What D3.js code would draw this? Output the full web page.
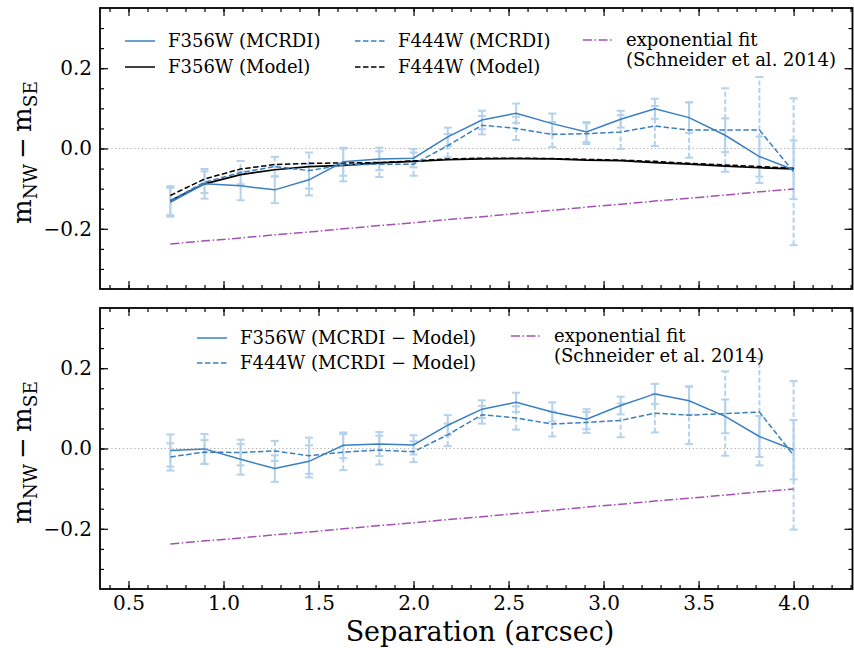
<!DOCTYPE html>
<html><head><meta charset="utf-8">
<script src="https://cdn.jsdelivr.net/npm/d3@7"></script>
<style>body{margin:0;background:#fff}svg{display:block}text{font-family:"DejaVu Serif",serif;fill:#000}</style>
</head><body>
<script>
const sep = [0.72,0.90,1.09,1.27,1.45,1.63,1.82,2.00,2.18,2.36,2.54,2.73,2.91,3.09,3.27,3.45,3.64,3.82,4.00];
const f356Mcrdi = [-0.134,-0.088,-0.093,-0.103,-0.078,-0.033,-0.026,-0.024,0.029,0.071,0.088,0.062,0.041,0.073,0.099,0.077,0.033,-0.020,-0.053];
const f444Mcrdi = [-0.130,-0.084,-0.060,-0.045,-0.055,-0.041,-0.039,-0.039,0.007,0.058,0.050,0.035,0.037,0.041,0.056,0.046,0.046,0.046,-0.058];
const f356Err = [0.036,0.037,0.036,0.033,0.039,0.035,0.028,0.023,0.023,0.023,0.024,0.025,0.025,0.021,0.025,0.038,0.042,0.050,0.073];
const f444Err = [0.036,0.027,0.029,0.024,0.045,0.041,0.032,0.029,0.029,0.023,0.029,0.031,0.026,0.042,0.050,0.069,0.104,0.132,0.183];
const f356Model = [-0.130,-0.088,-0.065,-0.053,-0.045,-0.042,-0.036,-0.032,-0.028,-0.026,-0.025,-0.026,-0.029,-0.030,-0.035,-0.039,-0.044,-0.048,-0.051];
const f444Model = [-0.117,-0.076,-0.051,-0.040,-0.037,-0.036,-0.035,-0.031,-0.026,-0.024,-0.024,-0.025,-0.027,-0.029,-0.032,-0.037,-0.041,-0.045,-0.049];
const f356Diff = [-0.005,-0.001,-0.027,-0.050,-0.032,0.008,0.011,0.009,0.058,0.098,0.115,0.091,0.073,0.107,0.136,0.119,0.080,0.030,-0.003];
const f444Diff = [-0.021,-0.009,-0.010,-0.006,-0.018,-0.009,-0.004,-0.008,0.034,0.084,0.076,0.061,0.065,0.070,0.088,0.083,0.087,0.091,-0.017];
const f356DiffErr = [0.040,0.037,0.038,0.033,0.040,0.032,0.030,0.024,0.025,0.022,0.024,0.024,0.025,0.022,0.025,0.035,0.042,0.051,0.074];
const f444DiffErr = [0.034,0.030,0.032,0.025,0.045,0.045,0.036,0.026,0.028,0.022,0.029,0.031,0.026,0.042,0.048,0.072,0.105,0.133,0.185];
const expFit = [-0.238,-0.230,-0.223,-0.215,-0.208,-0.200,-0.192,-0.185,-0.177,-0.170,-0.162,-0.154,-0.146,-0.139,-0.131,-0.124,-0.116,-0.108,-0.101];
const xTicks = [0.5,1.0,1.5,2.0,2.5,3.0,3.5,4.0];
const yTicks = [-0.2,0.0,0.2];

const W = 854, H = 648;
const BLUE = "#3b7fc0", ERR = "#b4d2ec", PURPLE = "#a451b4";
const svg = d3.select("body").append("svg").attr("width", W).attr("height", H);
const x = d3.scaleLinear().domain([0.35, 4.31]).range([100, 852.5]);
const panels = [{top: 8, bottom: 289}, {top: 308, bottom: 589}];

function lineOf(ys, y) {
  return d3.line().x((d, i) => x(sep[i])).y(d => y(d))(ys);
}

function drawPanel(p, idx) {
  const y = d3.scaleLinear().domain([-0.35, 0.35]).range([p.bottom, p.top]);
  const g = svg.append("g");
  g.append("line").attr("x1", x.range()[0]).attr("x2", x.range()[1])
    .attr("y1", y(0)).attr("y2", y(0)).attr("stroke", "#aaa").attr("stroke-width", 1.2).attr("stroke-dasharray", "1.2,2.6");

  const errSets = idx === 0
    ? [[f356Mcrdi, f356Err, null], [f444Mcrdi, f444Err, "5,2.5"]]
    : [[f356Diff, f356DiffErr, null], [f444Diff, f444DiffErr, "5,2.5"]];
  errSets.forEach(([vals, errs, dash]) => {
    const eg = g.append("g");
    vals.forEach((v, i) => {
      const cx = x(sep[i]);
      eg.append("line").attr("x1", cx).attr("x2", cx).attr("y1", y(v - errs[i])).attr("y2", y(v + errs[i]))
        .attr("stroke", ERR).attr("stroke-width", 2).attr("stroke-dasharray", dash);
      [v - errs[i], v + errs[i]].forEach(e => {
        eg.append("line").attr("x1", cx - 4).attr("x2", cx + 4).attr("y1", y(e)).attr("y2", y(e))
          .attr("stroke", ERR).attr("stroke-width", 2);
      });
    });
  });

  g.append("path").attr("d", lineOf(expFit, y)).attr("fill", "none").attr("stroke", PURPLE)
    .attr("stroke-width", 1.5).attr("stroke-dasharray", "9,2.5,1.5,2.5");
  if (idx === 0) {
    g.append("path").attr("d", lineOf(f356Model, y)).attr("fill", "none").attr("stroke", "#000").attr("stroke-width", 1.7);
    g.append("path").attr("d", lineOf(f444Model, y)).attr("fill", "none").attr("stroke", "#000").attr("stroke-width", 1.5).attr("stroke-dasharray", "5.5,2.5");
    g.append("path").attr("d", lineOf(f356Mcrdi, y)).attr("fill", "none").attr("stroke", BLUE).attr("stroke-width", 1.5);
    g.append("path").attr("d", lineOf(f444Mcrdi, y)).attr("fill", "none").attr("stroke", BLUE).attr("stroke-width", 1.5).attr("stroke-dasharray", "5.5,2.5");
  } else {
    g.append("path").attr("d", lineOf(f356Diff, y)).attr("fill", "none").attr("stroke", BLUE).attr("stroke-width", 1.5);
    g.append("path").attr("d", lineOf(f444Diff, y)).attr("fill", "none").attr("stroke", BLUE).attr("stroke-width", 1.5).attr("stroke-dasharray", "5.5,2.5");
  }

  const xMinor = d3.range(4, 44).map(d => d / 10).filter(d => d >= 0.35 && d <= 4.31);
  const yMinor = d3.range(-7, 8).map(d => d * 0.05).filter(d => d > -0.35 && d < 0.35);
  const mk = (axis) => axis.tickSizeOuter(0);
  const addAxis = (axisGen, tx, ty, labels) => {
    const a = g.append("g").attr("transform", `translate(${tx},${ty})`).call(axisGen);
    a.select(".domain").remove();
    a.selectAll("line").attr("stroke", "#000").attr("stroke-width", 1.2);
    a.selectAll("text").style("font-family", '"DejaVu Serif", serif').style("font-size", "20px").attr("fill", "#000");
    if (!labels) a.selectAll("text").remove();
    return a;
  };
  addAxis(mk(d3.axisTop(x).tickValues(xMinor).tickSize(4).tickFormat("")), 0, p.bottom, false);
  const xb = addAxis(mk(d3.axisTop(x).tickValues(xTicks).tickSize(8).tickFormat(d3.format(".1f"))), 0, p.bottom, idx === 1);
  if (idx === 1) xb.selectAll("text").attr("y", 7).attr("dy", "0.71em").attr("text-anchor", "middle");
  addAxis(mk(d3.axisBottom(x).tickValues(xMinor).tickSize(4).tickFormat("")), 0, p.top, false);
  addAxis(mk(d3.axisBottom(x).tickValues(xTicks).tickSize(8).tickFormat("")), 0, p.top, false);
  addAxis(mk(d3.axisRight(y).tickValues(yMinor).tickSize(4).tickFormat("")), 100, 0, false);
  const yl = addAxis(mk(d3.axisRight(y).tickValues(yTicks).tickSize(8).tickFormat(d => d3.format(".1f")(d).replace("-", "\u2212"))), 100, 0, true);
  yl.selectAll("text").attr("x", -8).attr("text-anchor", "end");
  addAxis(mk(d3.axisLeft(y).tickValues(yMinor).tickSize(4).tickFormat("")), x.range()[1], 0, false);
  addAxis(mk(d3.axisLeft(y).tickValues(yTicks).tickSize(8).tickFormat("")), x.range()[1], 0, false);

  g.append("rect").attr("x", 100).attr("y", p.top).attr("width", x.range()[1] - 100).attr("height", p.bottom - p.top)
    .attr("fill", "none").attr("stroke", "#000").attr("stroke-width", 1.8);

  const lab = g.append("text").attr("transform", `translate(31,${(p.top + p.bottom) / 2 + 4}) rotate(-90)`)
    .attr("text-anchor", "middle").style("font-size", "26px");
  lab.append("tspan").text("m");
  lab.append("tspan").attr("dy", 6).style("font-size", "18.5px").text("NW");
  lab.append("tspan").attr("dy", -6).text("\u2009\u2212\u2009m");
  lab.append("tspan").attr("dy", 6).style("font-size", "18.5px").text("SE");
}
panels.forEach(drawPanel);

function legendItem(x1, yc, stroke, dash, label, lines) {
  svg.append("line").attr("x1", x1).attr("x2", x1 + 30).attr("y1", yc).attr("y2", yc)
    .attr("stroke", stroke).attr("stroke-width", 1.5).attr("stroke-dasharray", dash);
  const t = svg.append("text").attr("x", x1 + 43).attr("y", yc).style("font-size", "18px");
  (lines || [label]).forEach((l, i) => t.append("tspan").attr("x", x1 + 43).attr("dy", i === 0 ? "0.35em" : "1.07em").text(l));
}
legendItem(125, 41, BLUE, null, "F356W (MCRDI)");
legendItem(125, 67, "#000", null, "F356W (Model)");
legendItem(355, 41, BLUE, "5.5,2.5", "F444W (MCRDI)");
legendItem(355, 67, "#000", "5.5,2.5", "F444W (Model)");
legendItem(583, 40, PURPLE, "9,2.5,1.5,2.5", null, ["exponential fit", "(Schneider et al. 2014)"]);
legendItem(197, 338, BLUE, null, "F356W (MCRDI \u2212 Model)");
legendItem(197, 363, BLUE, "5.5,2.5", "F444W (MCRDI \u2212 Model)");
legendItem(511, 336, PURPLE, "9,2.5,1.5,2.5", null, ["exponential fit", "(Schneider et al. 2014)"]);

svg.append("text").attr("x", 480).attr("y", 640.5).attr("text-anchor", "middle").style("font-size", "27px").text("Separation (arcsec)");
</script>
</body></html>
